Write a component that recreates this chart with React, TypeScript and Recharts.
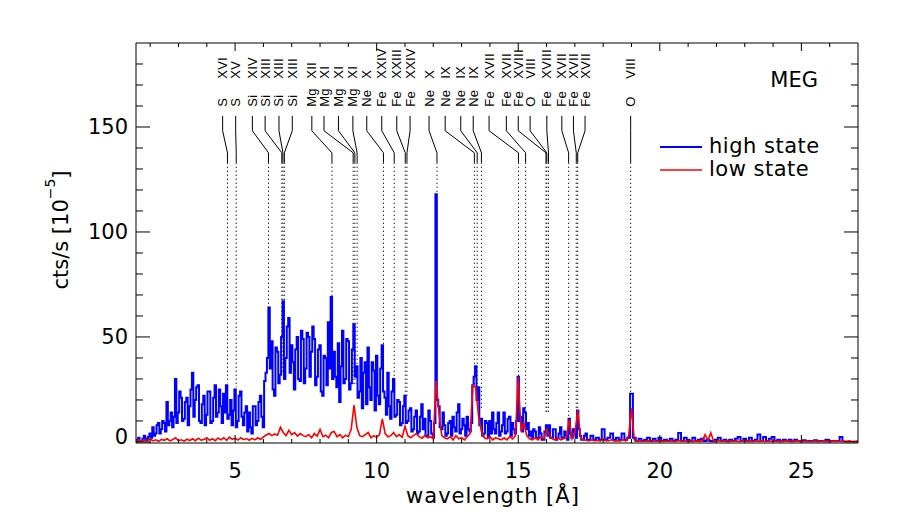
import { LineChart, Line, XAxis, YAxis, ReferenceLine, ReferenceDot } from "recharts"

// high state: 0.05 Å bins from 1.5 to 17.45 Å (one row per 0.5 Å), then 0.1 Å bins from 17.5 Å
const HIGH_FINE_START = 1.5
const HIGH_FINE_STEP = 0.05
const HIGH_COARSE_START = 17.5
const COARSE_STEP = 0.1
// low state: 0.1 Å bins from 1.5 Å (one row per Å)
const LOW_START = 1.5

const highStateFine = [
  1, 0.3, 2, 0.5, 0.5, 1.5, 3, 0.8, 1.5, 2.5,
  4, 2, 7, 3, 4, 8, 9, 4, 6, 10,
  9, 5, 19, 8, 10, 14, 7, 12, 30, 9,
  14, 24, 21, 10, 11, 19, 21, 8, 17, 25,
  33, 12, 20, 26, 27, 10, 9, 18, 22, 8,
  13, 24, 24, 9, 10, 21, 27, 12, 14, 25,
  17, 9, 23, 14, 27, 11, 13, 20, 8, 15,
  25, 7, 10, 22, 24, 12, 8, 14, 17, 5,
  14, 7, 4, 17, 17, 8, 10, 19, 22, 12,
  7, 29, 33, 40, 64, 35, 48, 25, 22, 45,
  43, 28, 32, 50, 67, 30, 40, 55, 59, 33,
  46, 38, 25, 44, 50, 30, 29, 53, 49, 28,
  35, 52, 50, 31, 43, 55, 49, 27, 31, 44,
  46, 24, 22, 41, 40, 27, 57, 35, 69, 30,
  43, 31, 26, 47, 19, 36, 53, 28, 30, 49,
  48, 25, 28, 44, 56, 31, 36, 21, 24, 40,
  16, 33, 38, 18, 45, 26, 20, 38, 34, 15,
  41, 22, 18, 35, 46, 24, 21, 13, 33, 17,
  11, 24, 30, 12, 13, 20, 19, 8, 9, 17,
  22, 9, 10, 15, 16, 5, 6, 12, 15, 4,
  5, 12, 18, 6, 11, 3, 3, 15, 10, 4,
  2, 9, 118, 20, 17, 7, 6, 14, 8, 3,
  4, 9, 10, 3, 12, 7, 5, 14, 18, 4,
  6, 11, 8, 3, 12, 6, 5, 9, 27, 31,
  36, 20, 26, 8, 11, 3, 4, 10, 9, 2,
  10, 4, 14, 6, 4, 9, 14, 3, 5, 8,
  14, 4, 5, 11, 12, 3, 9, 6, 4, 10,
  31, 10, 12, 5, 16, 14, 6, 9, 3, 5,
  2, 6, 5, 2, 2, 7, 4, 1, 1, 5,
  8, 3, 8, 2, 2, 6, 6, 1, 2, 4,
  7, 2, 2, 5, 3, 1, 11, 4, 2, 6,
  5, 2, 15, 6, 3, 1, 1, 3, 4, 1,
]

const highStateCoarse = [
  1, 3, 1, 2, 1, 6, 1, 2, 4, 1,
  2, 1, 4, 1, 2, 23, 2, 0.5, 1.5, 0.5,
  1, 2, 0.5, 1.5, 0.5, 2, 0.5, 1, 0.5, 1.5,
  0.5, 1, 4.3, 0.5, 2, 1, 0.5, 2, 0.5, 1,
  1.5, 0.5, 1, 0.5, 0.3, 1, 2, 0.5, 1, 0.3,
  1, 0.5, 1.5, 2.4, 0.5, 1.5, 0.5, 2, 0.5, 1,
  3.5, 0.5, 2.4, 0.5, 1.5, 2.4, 0.5, 1, 0.3, 1,
  0.5, 1, 0.3, 1, 0.5, 0.3, 0.8, 0.3, 0.5, 0.3,
  0.8, 0.3, 0.5, 0.3, 1, 0.3, 0.5, 0.3, 0.5, 2.4,
  0.3,
]

const lowState = [
  0.5, 1, 0.3, 1, 0.5, 1.5, 0.5, 1, 0.3, 1.2,
  0.8, 1.5, 0.5, 1.2, 2, 0.6, 1, 0.4, 1.3, 0.7,
  1.5, 0.6, 1.8, 0.9, 1.2, 2, 0.8, 1.5, 0.6, 1.9,
  1, 2, 0.8, 2.3, 1.2, 1.8, 0.9, 2, 1.1, 1.6,
  0.8, 1.7, 1, 2, 1.2, 2.4, 3.3, 4, 3, 3.8,
  3.2, 7, 4.5, 3, 5.5, 3.5, 4.5, 2.8, 4, 3,
  2.5, 3.5, 2, 4, 2.8, 6, 2.5, 3.2, 2, 4.5,
  5, 2.5, 3.5, 2, 3.2, 2.5, 6, 17.5, 7, 3,
  2.5, 3.5, 4.5, 2, 3, 2.2, 3.5, 11, 4, 2.5,
  3, 4.5, 2.5, 3.5, 2.2, 7.5, 3, 2, 3, 4,
  2.5, 1.8, 3, 2, 2.5, 1.5, 29, 14, 3, 2,
  1.5, 2.5, 1, 3, 1.5, 2, 1, 2.5, 4, 27,
  26, 12, 5, 2, 1.5, 2.5, 1, 2, 1.5, 1,
  2, 1, 2.5, 1.5, 3, 31, 5, 9, 3, 1.5,
  1, 2, 1, 2.5, 1.5, 6, 3, 1.5, 1, 2,
  1, 1.5, 2, 10.6, 1.5, 4, 15, 2, 1, 0.8,
  0.5, 1, 0.5, 0.8, 0.4, 1.5, 0.5, 0.6, 1, 0.4,
  0.6, 0.4, 1, 0.5, 3, 16, 1, 0.4, 0.6, 0.3,
  0.3, 0.5, 0.2, 0.4, 0.3, 0.5, 0.2, 0.4, 0.3, 0.5,
  0.2, 0.4, 0.6, 0.3, 0.5, 0.2, 0.4, 0.3, 0.6, 0.3,
  0.5, 3.5, 0.8, 4.3, 0.5, 0.3, 0.6, 0.3, 0.5, 0.2,
  0.4, 0.3, 0.5, 0.2, 0.4, 0.6, 0.3, 0.4, 0.2, 0.5,
  0.3, 0.5, 0.2, 0.4, 0.3, 0.5, 0.3, 0.2, 0.4, 0.3,
  0.5, 0.2, 0.4, 0.3, 0.5, 0.2, 0.3, 0.4, 0.2, 0.3,
  0.4, 0.2, 0.3, 0.5, 0.2, 0.4, 0.3, 0.5, 0.3, 0.2,
  0.4, 0.3, 0.5, 0.2, 0.3, 0.4,
]

const xTicks = [2, 3, 4, 5, 6, 7, 8, 9, 10, 11, 12, 13, 14, 15, 16, 17, 18, 19, 20, 21, 22, 23, 24, 25, 26]
const yTicks = [0, 10, 20, 30, 40, 50, 60, 70, 80, 90, 100, 110, 120, 130, 140, 150, 160, 170, 180]

// line identifications
const lineNames = [
  "S XVI", "S XV", "Si XIV", "Si XIII", "Si XIII", "Si XIII", "Mg XII", "Mg XI", "Mg XI", "Mg XI",
  "Ne X", "Fe XXIV", "Fe XXIII", "Fe XXIV", "Ne X", "Ne IX", "Ne IX", "Ne IX",
  "Fe XVII", "Fe XVII", "Fe XVIII", "O VIII", "Fe XVIII", "Fe XVII", "Fe XVII", "Fe XVII", "O VIII",
]
const lineWavelengths = [
  4.73, 5.04, 6.18, 6.65, 6.69, 6.74, 8.42, 9.17, 9.23, 9.31,
  10.24, 10.62, 11.01, 11.07, 12.13, 13.45, 13.55, 13.7,
  15.01, 15.26, 15.98, 16.01, 16.07, 16.78, 17.05, 17.1, 18.97,
]
// how far down each dotted marker reaches (cts/s)
const lineDotEnds = [
  28, 26, 60, 33, 33, 33, 68, 27, 27, 27,
  40, 30, 21, 21, 118, 26, 26, 15,
  31, 16, 14, 14, 14, 11, 16, 16, 23,
]
// where each label sits along the top, in Å
const labelAnchors = [
  4.56, 5.02, 5.61, 6.06, 6.55, 7.02, 7.71, 8.14, 8.65, 9.16,
  9.65, 10.18, 10.71, 11.18, 11.85, 12.42, 12.97, 13.41,
  13.97, 14.58, 15.0, 15.42, 16.01, 16.54, 16.95, 17.36, 18.97,
]

const TEXT_V = 159.6
const TOP_V = 155.3
const KNEE_V = 148.2
const SLANT_V = 137.7
const SOLID_V = 133

const FONT = '"DejaVu Sans", sans-serif'
const LABEL_FONT = '"Liberation Sans", Arial, sans-serif'

const toSeries = (vals: number[], start: number, step: number) =>
  vals.map((v, i) => ({ wl: Math.round((start + i * step) * 1000) / 1000, cts: v }))

const highData = [
  ...toSeries(highStateFine, HIGH_FINE_START, HIGH_FINE_STEP),
  ...toSeries(highStateCoarse, HIGH_COARSE_START, COARSE_STEP),
]
const lowData = toSeries(lowState, LOW_START, COARSE_STEP)

const BottomTick = (props: any) => {
  const { x, y, payload } = props
  const major = payload.value % 5 === 0
  return (
    <g>
      <line x1={x} x2={x} y1={y} y2={y - (major ? 8 : 4)} stroke="#000" />
      {major && (
        <text x={x} y={y + 35} textAnchor="middle" fontSize={21} fontFamily={FONT} fill="#000">
          {payload.value}
        </text>
      )}
    </g>
  )
}

const TopTick = (props: any) => {
  const { x, y, payload } = props
  const major = payload.value % 5 === 0
  return <line x1={x} x2={x} y1={y} y2={y + (major ? 8 : 4)} stroke="#000" />
}

const LeftTick = (props: any) => {
  const { x, y, payload } = props
  const major = payload.value % 50 === 0
  return (
    <g>
      <line x1={x} x2={x + (major ? 14 : 7)} y1={y} y2={y} stroke="#000" />
      {major && (
        <text x={x - 8} y={y + (payload.value === 0 ? 2 : 7.5)} textAnchor="end" fontSize={21} fontFamily={FONT} fill="#000">
          {payload.value}
        </text>
      )}
    </g>
  )
}

const RightTick = (props: any) => {
  const { x, y, payload } = props
  const major = payload.value % 50 === 0
  return <line x1={x} x2={x - (major ? 14 : 7)} y1={y} y2={y} stroke="#000" />
}

const lineLabel = (name: string) => (p: any) => {
  const [el, ...rest] = name.split(" ")
  return (
    <g fontFamily={LABEL_FONT} fontSize={13} fill="#000" letterSpacing={0.3}>
      <text transform={`translate(${p.cx + 4.5},${p.cy}) rotate(-90)`}>{el}</text>
      <text transform={`translate(${p.cx + 4.5},${p.cy - 28}) rotate(-90)`}>{rest.join(" ")}</text>
    </g>
  )
}

export default function App() {
  return (
    <div style={{ position: "absolute", left: 0, top: 0, background: "#fff" }}>
      <LineChart width={899} height={531} margin={{ top: 42, right: 40, bottom: 58, left: 76 }}>
        <XAxis
          dataKey="wl"
          type="number"
          domain={[1.5, 27]}
          allowDataOverflow
          ticks={xTicks}
          interval={0}
          height={30}
          tickSize={0}
          tickMargin={0}
          tickLine={false}
          tick={BottomTick}
          axisLine={{ stroke: "#000" }}
        />
        <XAxis
          xAxisId="top"
          orientation="top"
          dataKey="wl"
          type="number"
          domain={[1.5, 27]}
          allowDataOverflow
          ticks={xTicks}
          interval={0}
          height={1}
          tickSize={0}
          tickMargin={0}
          tickLine={false}
          tick={TopTick}
          axisLine={{ stroke: "#000" }}
        />
        <YAxis
          type="number"
          domain={[-0.5, 190]}
          allowDataOverflow
          ticks={yTicks}
          interval={0}
          width={60}
          tickSize={0}
          tickMargin={0}
          tickLine={false}
          tick={LeftTick}
          axisLine={{ stroke: "#000" }}
        />
        <YAxis
          yAxisId="right"
          orientation="right"
          type="number"
          domain={[-0.5, 190]}
          allowDataOverflow
          ticks={yTicks}
          interval={0}
          width={1}
          tickSize={0}
          tickMargin={0}
          tickLine={false}
          tick={RightTick}
          axisLine={{ stroke: "#000" }}
        />

        {lineWavelengths.map((wl, i) => (
          <ReferenceLine
            key={`dot-${i}`}
            segment={[{ x: wl, y: SOLID_V }, { x: wl, y: lineDotEnds[i] }]}
            stroke="#000"
            strokeDasharray="1.2 2.8"
          />
        ))}

        <Line data={highData} dataKey="cts" type="step" stroke="#0000ff" strokeWidth={2} dot={false} isAnimationActive={false} />
        <Line data={lowData} dataKey="cts" type="linear" stroke="#ff0000" strokeWidth={1.6} dot={false} isAnimationActive={false} />

        {lineWavelengths.map((wl, i) => (
          <ReferenceLine key={`a-${i}`} segment={[{ x: labelAnchors[i], y: TOP_V }, { x: labelAnchors[i], y: KNEE_V }]} stroke="#000" />
        ))}
        {lineWavelengths.map((wl, i) => (
          <ReferenceLine key={`b-${i}`} segment={[{ x: labelAnchors[i], y: KNEE_V }, { x: wl, y: SLANT_V }]} stroke="#000" />
        ))}
        {lineWavelengths.map((wl, i) => (
          <ReferenceLine key={`c-${i}`} segment={[{ x: wl, y: SLANT_V }, { x: wl, y: SOLID_V }]} stroke="#000" />
        ))}
        {lineNames.map((name, i) => (
          <ReferenceDot key={`t-${i}`} x={labelAnchors[i]} y={TEXT_V} r={0} shape={lineLabel(name)} />
        ))}

        <text x={818} y={87} textAnchor="end" fontSize={21} fontFamily={FONT} fill="#000">MEG</text>
        <line x1={660} x2={702} y1={147} y2={147} stroke="#0000ff" strokeWidth={2} />
        <text x={709} y={153} fontSize={21} fontFamily={FONT} fill="#000" letterSpacing={0.5}>high state</text>
        <line x1={660} x2={702} y1={170} y2={170} stroke="#ff0000" strokeWidth={1.5} />
        <text x={709} y={176} fontSize={21} fontFamily={FONT} fill="#000" letterSpacing={0.5}>low state</text>

        <text x={493} y={503} textAnchor="middle" fontSize={21} fontFamily={FONT} fill="#000" letterSpacing={1}>
          wavelength [Å]
        </text>
        <text transform="translate(68,230) rotate(-90)" textAnchor="middle" fontSize={21} fontFamily={FONT} fill="#000">
          cts/s [10<tspan dy={-13} fontSize={14}>−5</tspan><tspan dy={13}>]</tspan>
        </text>
      </LineChart>
    </div>
  )
}
